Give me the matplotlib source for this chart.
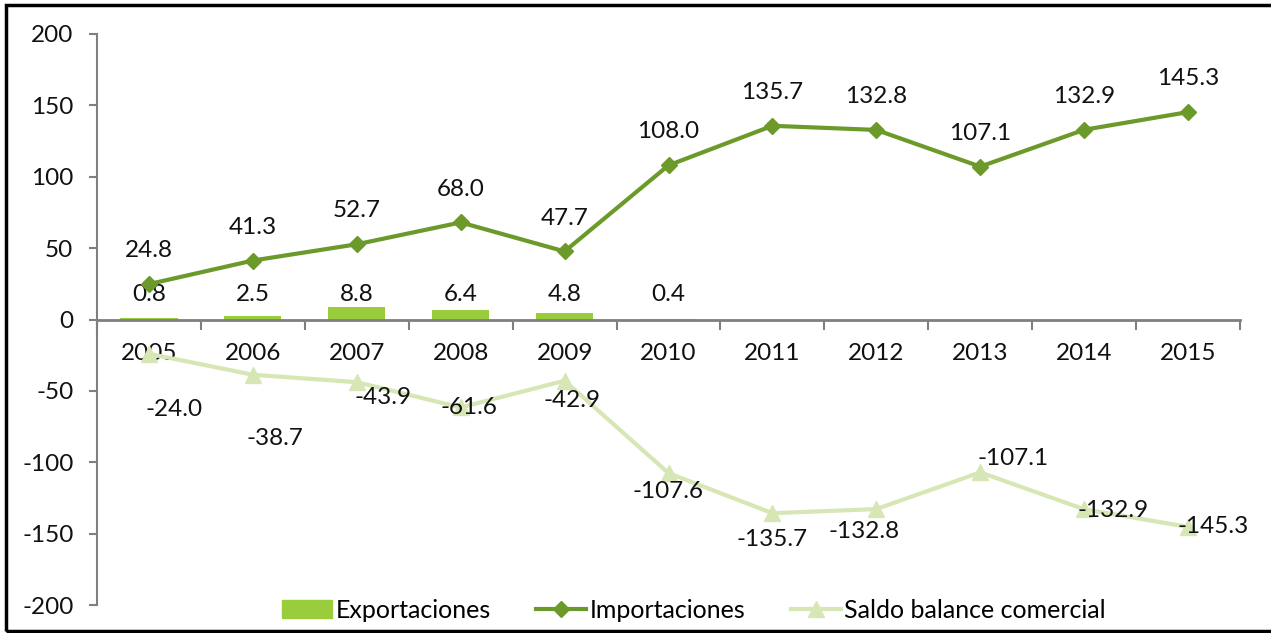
import matplotlib
matplotlib.use("Agg")
import matplotlib.pyplot as plt
from matplotlib.patches import Rectangle
from matplotlib.lines import Line2D
import numpy as np

years = ["2005", "2006", "2007", "2008", "2009", "2010", "2011", "2012", "2013", "2014", "2015"]
exportaciones = [0.8, 2.5, 8.8, 6.4, 4.8, 0.4, None, None, None, None, None]
importaciones = [24.8, 41.3, 52.7, 68.0, 47.7, 108.0, 135.7, 132.8, 107.1, 132.9, 145.3]
saldo = [-24.0, -38.7, -43.9, -61.6, -42.9, -107.6, -135.7, -132.8, -107.1, -132.9, -145.3]
y_ticks = [-200, -150, -100, -50, 0, 50, 100, 150, 200]

# label offsets in points (style only)
saldo_offsets = [(18, -40), (16, -46), (19, -11), (6, 0), (5, -14), (0, -13),
                 (0, -19), (-9, -16), (24, 10), (21, -1), (18, 0)]

plt.rcParams['font.family'] = ['Lato', 'DejaVu Sans']

W, H = 1271, 633
fig = plt.figure(figsize=(W / 100, H / 100), dpi=100)
ax = fig.add_axes([97 / W, (H - 605) / H, (1240 - 97) / W, (605 - 34) / H])

x = np.arange(len(years))
bar_col = "#9ACD3C"
imp_col = "#6C9A2A"
sal_col = "#D7E6B5"
spine_col = "#7F7F7F"
fs = 17.5

for s in ["top", "right"]:
    ax.spines[s].set_visible(False)
ax.spines["bottom"].set_position(("data", 0))
ax.spines["bottom"].set_color(spine_col)
ax.spines["bottom"].set_linewidth(2)
ax.spines["left"].set_color(spine_col)
ax.spines["left"].set_linewidth(1.5)

ex_vals = [v if v is not None else 0 for v in exportaciones]
ax.bar(x, ex_vals, width=0.55, color=bar_col, zorder=2)
for xi, v in zip(x, exportaciones):
    if v is not None:
        ax.annotate(f"{v:.1f}", (xi, 0), xytext=(0, 18), textcoords="offset points",
                    ha="center", va="center", fontsize=fs, color="#111111")

ax.plot(x, saldo, color=sal_col, lw=3, marker="^", ms=12, zorder=3)
ax.plot(x, importaciones, color=imp_col, lw=3, marker="D", ms=8.5, zorder=4)

for xi, v in zip(x, importaciones):
    ax.annotate(f"{v:.1f}", (xi, v), xytext=(0, 24), textcoords="offset points",
                ha="center", va="center", fontsize=fs, color="#111111")
for xi, v, off in zip(x, saldo, saldo_offsets):
    ax.annotate(f"{v:.1f}", (xi, v), xytext=off, textcoords="offset points",
                ha="center", va="center", fontsize=fs, color="#111111", zorder=5)

ax.set_xlim(-0.5, len(years) - 0.5)
ax.set_ylim(-200, 200)
ax.set_yticks(y_ticks)
ax.set_yticklabels([str(t) for t in y_ticks])
ax.tick_params(axis="y", direction="out", length=6, width=1.5, color=spine_col, pad=11,
               labelsize=fs, labelcolor="#111111")

ax.set_xticks(x)
ax.set_xticklabels(years)
ax.set_xticks(np.arange(len(years) + 1) - 0.5, minor=True)
ax.tick_params(axis="x", which="major", length=0, pad=17, labelsize=fs, labelcolor="#111111")
ax.tick_params(axis="x", which="minor", length=7, width=1.5, color=spine_col, direction="out")

handles = [
    Rectangle((0, 0), 1, 1, color=bar_col),
    Line2D([], [], color=imp_col, lw=3, marker="D", ms=8.5),
    Line2D([], [], color=sal_col, lw=3, marker="^", ms=12),
]
fig.legend(handles, ["Exportaciones", "Importaciones", "Saldo balance comercial"],
           loc="center", bbox_to_anchor=(694 / W, (H - 610) / H), ncol=3, frameon=False,
           fontsize=18, handlelength=2.0, columnspacing=1.8, handletextpad=0.15)

fig.add_artist(Rectangle((6 / W, 2 / H), 1.2, (H - 7) / H, transform=fig.transFigure,
                         fill=False, edgecolor="black", lw=2.5, clip_on=False))

fig.savefig("out.png", dpi=100)
